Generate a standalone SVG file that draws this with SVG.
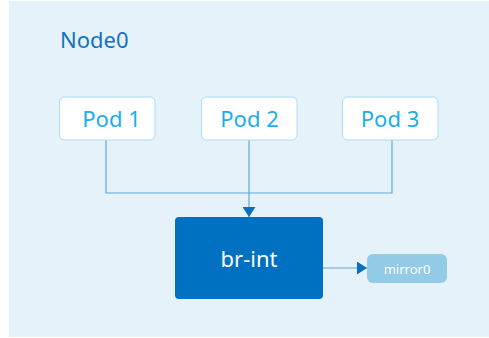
<svg xmlns="http://www.w3.org/2000/svg" width="489" height="338" viewBox="0 0 489 338">
  <defs>
    <marker id="tri" viewBox="0 0 10 13" refX="10" refY="6.5" markerWidth="10" markerHeight="13" markerUnits="userSpaceOnUse" orient="auto">
      <path d="M0,0 L10,6.5 L0,13 z" fill="#0A6FBE"/>
    </marker>
    <style>
      .pod rect { fill: #FFFFFF; stroke: #A8DDF6; stroke-width: 1; }
      .pod text { fill: #1BAEEB; font-family: "Noto Sans", "DejaVu Sans", sans-serif; font-size: 22px; text-anchor: middle; }
      .wire { fill: none; stroke: #5DA8DA; stroke-width: 1.2; }
      .label { font-family: "Noto Sans", "DejaVu Sans", sans-serif; }
    </style>
  </defs>

  <!-- host background -->
  <rect x="0" y="0" width="489" height="338" fill="#FFFFFF"/>
  <rect x="9" y="1" width="480" height="336" fill="#E6F2FA"/>
  <text class="label" x="60" y="48" font-size="22" fill="#1573BF">Node0</text>

  <!-- connectors -->
  <g id="connectors">
    <polyline class="wire" points="106,140 106,193 392,193 392,140"/>
    <line class="wire" x1="249" y1="140" x2="249" y2="217" marker-end="url(#tri)"/>
    <line class="wire" x1="323" y1="268" x2="367" y2="268" marker-end="url(#tri)"/>
  </g>

  <g id="pod1" class="pod">
    <rect x="59.5" y="97" width="95.5" height="43" rx="5"/>
    <text x="111.5" y="127">Pod 1</text>
  </g>
  <g id="pod2" class="pod">
    <rect x="201.5" y="97" width="95.5" height="43" rx="5"/>
    <text x="249.5" y="127">Pod 2</text>
  </g>
  <g id="pod3" class="pod">
    <rect x="342.5" y="97" width="95.5" height="43" rx="5"/>
    <text x="390" y="127">Pod 3</text>
  </g>

  <g id="br-int">
    <rect x="175" y="217" width="148" height="82" rx="4" fill="#0070C0"/>
    <text class="label" x="249" y="267" font-size="22" fill="#FFFFFF" text-anchor="middle">br-int</text>
  </g>

  <g id="mirror0">
    <rect x="367" y="254" width="80" height="29" rx="6" fill="#93CAE6"/>
    <text class="label" x="407" y="273.5" font-size="13" fill="#FFFFFF" text-anchor="middle">mirror0</text>
  </g>
</svg>
